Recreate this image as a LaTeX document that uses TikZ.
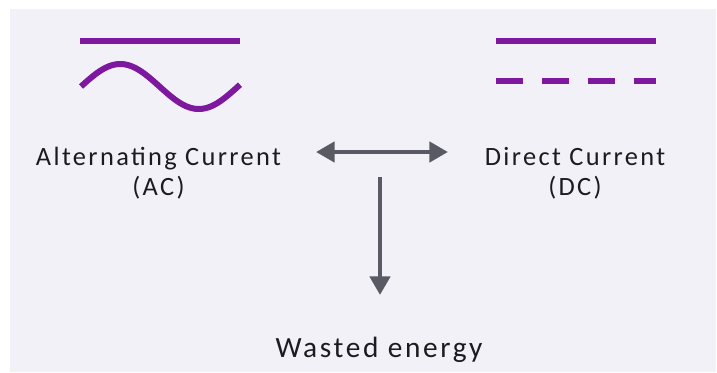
\documentclass[tikz,border=0pt]{standalone}
\usepackage{fontspec}
\setmainfont{Carlito}[LetterSpace=9]
\usepackage{tikz}
\usetikzlibrary{arrows.meta}
\definecolor{wirepurple}{RGB}{126,24,158}
\definecolor{arrowgray}{RGB}{90,90,100}
\definecolor{panelgray}{RGB}{242,241,247}
\definecolor{labelblack}{RGB}{28,28,30}
\tikzset{
    wire/.style={
        line width=4.5pt,
        wirepurple
    },
    % grey arrows between the labels
    grayarrow/.style={
        line width=3.6pt,
        arrowgray,
        -{Triangle[length=14pt, width=15pt]}
    },
    label/.style={
        labelblack,
        align=center,
        font=\fontsize{19.8}{22.5}\selectfont
    }
}

\begin{document}
\begin{tikzpicture}[x=0.75pt,y=-0.75pt]
    \useasboundingbox (0,0) rectangle (717,372);
    \fill[white] (0,0) rectangle (717,372);
    \fill[panelgray] (10,9) rectangle (716,372);

    \path
    (316,152) coordinate (l1)
    (448,152) coordinate (l2)
    (380,177) coordinate (w1)
    (380,295) coordinate (w2);

    % AC symbol
    \draw[wire] (80,41) -- (240,41);
    \draw[wire] plot[domain=81:240, samples=80] (\x,{86.5-22.5*sin(2.293*(\x-81))});

    % DC symbol
    \draw[wire] (496,41) -- (656,41);
    \draw[wire, dash pattern=on 20.25pt off 14.25pt] (496,81) -- (656,81);

    % labels (base = baseline of the last line)
    \node[label, anchor=base] (ac) at (158.5,195) {Alternating Current\\(AC)};
    \node[label, anchor=base] (dc) at (575,195) {Direct Current\\(DC)};
    \node[label, anchor=base, font=\fontsize{22}{26}\selectfont] (waste) at (379,357) {Wasted energy};

    \draw[grayarrow, {Triangle[length=14pt, width=15pt]}-{Triangle[length=14pt, width=15pt]}] (l1) -- (l2);
    \draw[grayarrow] (w1) -- (w2);

\end{tikzpicture}
\end{document}
